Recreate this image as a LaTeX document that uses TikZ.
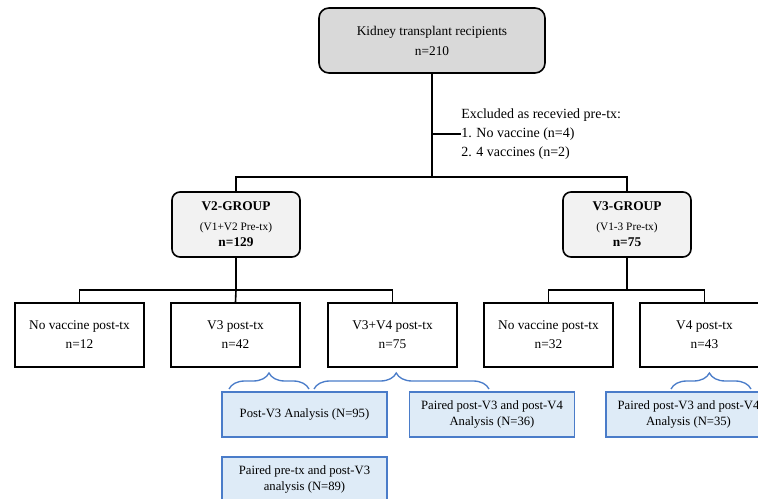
\documentclass[tikz,border=0pt]{standalone}
\usepackage{fontspec}
\setmainfont{Liberation Serif}
\usetikzlibrary{decorations.pathreplacing}
\definecolor{topgray}{HTML}{D9D9D9}
\definecolor{groupgray}{HTML}{F2F2F2}
\definecolor{boxblue}{HTML}{DEEBF7}
\definecolor{lineblue}{HTML}{4A7CC9}

\begin{document}
\begin{tikzpicture}[x=0.75pt,y=-0.75pt,
  every node/.style={inner sep=0pt, align=center},
  topbox/.style={draw, line width=1.2pt, rounded corners=7.5pt, fill=topgray,
    minimum width=169.5pt, minimum height=48.75pt, font=\fontsize{10}{15}\selectfont},
  groupbox/.style={draw, line width=1.2pt, rounded corners=6pt, fill=groupgray,
    minimum width=96pt, minimum height=48.75pt, font=\fontsize{10}{12}\selectfont},
  postbox/.style={draw, line width=1.2pt, minimum width=96.75pt, minimum height=48pt,
    font=\fontsize{10}{14.25}\selectfont},
  studybox/.style={draw=lineblue, line width=1pt, fill=boxblue, minimum width=123.75pt,
    minimum height=33.75pt, font=\fontsize{9.5}{12}\selectfont},
  link/.style={line width=1.2pt},
  bracket/.style={draw=lineblue, line width=1pt, decorate,
    decoration={brace, amplitude=12pt}}]

 \useasboundingbox (0,0) rectangle (758,499);
 \clip (0,0) rectangle (758,499);

 \node[topbox] (ktr) at (432,40.5) {Kidney transplant recipients\\ n=210};

 \node[anchor=west, align=left, font=\fontsize{10.5}{14}\selectfont] (excl) at (461,134)
   {Excluded as recevied pre-tx:\\ 1. No vaccine (n=4)\\ 2. 4 vaccines (n=2)};

 \node[groupbox] (vtwo) at (236,224.5) {\textbf{V2-GROUP}\\[3pt]
   {\fontsize{8.5}{12}\selectfont (V1+V2 Pre-tx)}\\ \textbf{n=129}};
 \node[groupbox] (vthree) at (627,224.5) {\textbf{V3-GROUP}\\[3pt]
   {\fontsize{8.5}{12}\selectfont (V1-3 Pre-tx)}\\ \textbf{n=75}};

 \node[postbox] (novacA) at (79.5,335) {No vaccine post-tx\\ n=12};
 \node[postbox] (vthreetx) at (235.5,335) {V3 post-tx\\ n=42};
 \node[postbox] (vthreefour) at (392.5,335) {V3+V4 post-tx\\ n=75};
 \node[postbox] (novacB) at (548.5,335) {No vaccine post-tx\\ n=32};
 \node[postbox] (vfourtx) at (704.5,335) {V4 post-tx\\ n=43};

 \node[studybox] (postthree) at (304.5,414.5) {Post-V3 Analysis (N=95)};
 \node[studybox] (pairpre) at (304.5,479.5) {Paired pre-tx and post-V3\\ analysis (N=89)};
 \node[studybox] (pairA) at (492,414.5) {Paired post-V3 and post-V4\\ Analysis (N=36)};
 \node[studybox] (pairB) at (688.5,414.5) {Paired post-V3 and post-V4\\ Analysis (N=35)};

 \coordinate (split) at (432,177);
 \coordinate (splitA) at (236,290);
 \coordinate (splitB) at (627,290);

 \draw[link] (ktr.south) -- (split);
 \draw[link] (ktr.south |- excl.west) -- (excl.west);
 \draw[link] (vtwo.north) |- (split) -| (vthree.north);

 \draw[link] (vtwo.south) -- (splitA);
 \draw[link] (novacA.north) |- (splitA) -| (vthreefour.north);
 \draw[link] (splitA) -- (vthreetx.north);

 \draw[link] (vthree.south) -- (splitB);
 \draw[link] (novacB.north) |- (splitB) -| (vfourtx.north);

 \coordinate (braceAl) at (229,389);
 \coordinate (braceAr) at (309,389);
 \coordinate (braceBl) at (314,389);
 \coordinate (braceBr) at (489,389);
 \coordinate (braceCl) at (671,389);
 \coordinate (braceCr) at (751,389);

 \draw[bracket] (braceAl) -- (braceAr);
 \draw[bracket, decoration={aspect=0.47}] (braceBl) -- (braceBr);
 \draw[bracket, decoration={aspect=0.48}] (braceCl) -- (braceCr);

\end{tikzpicture}
\end{document}
